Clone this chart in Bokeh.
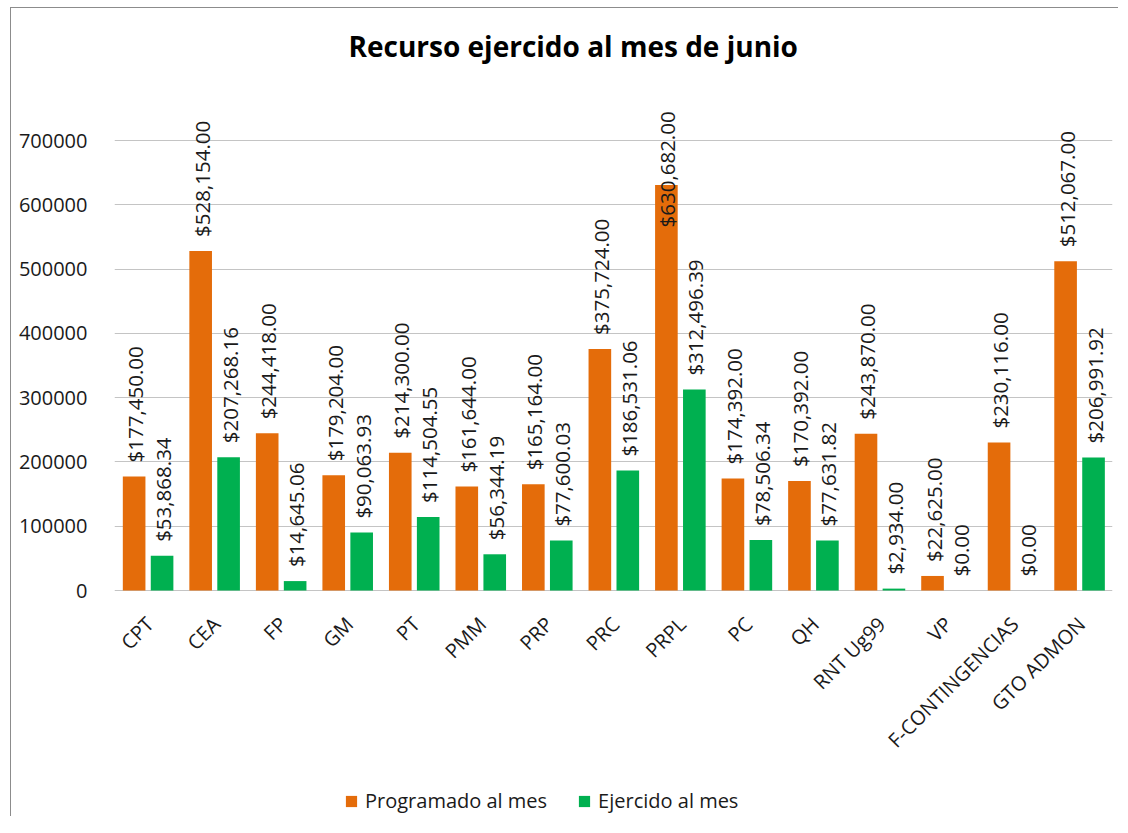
from math import pi
from bokeh.plotting import figure
from bokeh.models import (ColumnDataSource, FactorRange, Range1d, FixedTicker,
                          BasicTickFormatter, Legend, LegendItem)
from bokeh.transform import dodge
from bokeh.core.properties import value
from bokeh.embed import file_html
from bokeh.resources import INLINE

categories = ["CPT", "CEA", "FP", "GM", "PT", "PMM", "PRP", "PRC", "PRPL", "PC",
              "QH", "RNT Ug99", "VP", "F-CONTINGENCIAS", "GTO ADMON"]
programado = [177450.00, 528154.00, 244418.00, 179204.00, 214300.00, 161644.00,
              165164.00, 375724.00, 630682.00, 174392.00, 170392.00, 243870.00,
              22625.00, 230116.00, 512067.00]
ejercido = [53868.34, 207268.16, 14645.06, 90063.93, 114504.55, 56344.19,
            77600.03, 186531.06, 312496.39, 78506.34, 77631.82, 2934.00,
            0.00, 0.00, 206991.92]
y_ticks = [0, 100000, 200000, 300000, 400000, 500000, 600000, 700000]

FONT = "Open Sans"
ORANGE = "#E46C0A"
GREEN = "#00B050"
TXT = "#1a1a1a"
FRAME_GRAY = "#8c8c8c"

# frame geometry (pixels): part above the zero line and part below it
ABOVE = 503
BELOW = 226
PX_PER_700K = 450
Y_END = 700000 * ABOVE / PX_PER_700K
Y_START = -700000 * BELOW / PX_PER_700K
PPU = PX_PER_700K / 700000
LABEL_LEN = 126  # approx pixel length of a value label


def money(v):
    return "${:,.2f}".format(v)


def label_offset(v, gap):
    # keep the label inside the plot area, like the spreadsheet does
    top_px = (Y_END - v) * PPU
    if top_px - gap - LABEL_LEN < 14:
        return (14 + LABEL_LEN) - top_px
    return -gap


src = ColumnDataSource(dict(
    cat=categories,
    prog=programado,
    ejer=ejercido,
    prog_lbl=[money(v) for v in programado],
    ejer_lbl=[money(v) for v in ejercido],
    prog_off=[label_offset(v, 14) for v in programado],
    ejer_off=[label_offset(v, 14) for v in ejercido],
))

p = figure(x_range=FactorRange(*categories), y_range=Range1d(Y_START, Y_END),
           frame_width=998, frame_height=ABOVE + BELOW,
           output_backend="svg", toolbar_location=None,
           min_border_left=114, min_border_right=6, min_border_top=87,
           min_border_bottom=0)
p.border_fill_alpha = 0
p.background_fill_color = "white"
line = "linear-gradient({c},{c})".format(c=FRAME_GRAY)
p.styles = {
    "background": (line + " 10px 7px / 1px 100% no-repeat, "
                   + line + " 10px 7px / 100% 1px no-repeat, white"),
}

r1 = p.vbar(x=dodge("cat", -0.205, range=p.x_range), top="prog", width=0.34,
            source=src, fill_color=ORANGE, line_color=None)
r2 = p.vbar(x=dodge("cat", 0.215, range=p.x_range), top="ejer", width=0.34,
            source=src, fill_color=GREEN, line_color=None)

p.text(x=dodge("cat", -0.205, range=p.x_range), y="prog", text="prog_lbl",
       source=src, angle=pi / 2, text_align="left", text_baseline="middle",
       x_offset=1, y_offset="prog_off", text_font=value(FONT),
       text_font_size="20.5px", text_color=TXT)
p.text(x=dodge("cat", 0.215, range=p.x_range), y="ejer", text="ejer_lbl",
       source=src, angle=pi / 2, text_align="left", text_baseline="middle",
       x_offset=1, y_offset="ejer_off", text_font=value(FONT),
       text_font_size="20.5px", text_color=TXT)

# category labels (slanted, below the zero line)
p.text(x="cat", y=0, text="cat", source=src, angle=pi / 4,
       text_align="right", text_baseline="middle", x_offset=2, y_offset=30,
       text_font=value(FONT), text_font_size="20px", text_color=TXT)

# Title
p.title.text = "Recurso ejercido al mes de junio"
p.title.text_font = FONT
p.title.text_font_size = "28px"
p.title.text_font_style = "bold"
p.title.text_color = "#000000"
p.title.align = "left"
p.title.offset = 234
p.title.standoff = 46

# Axes
p.xaxis.visible = False
p.yaxis.ticker = FixedTicker(ticks=y_ticks)
p.yaxis.formatter = BasicTickFormatter(use_scientific=False)
p.yaxis.axis_line_color = None
p.yaxis.major_tick_line_color = None
p.yaxis.minor_tick_line_color = None
p.yaxis.major_label_standoff = 21
p.yaxis.major_label_text_font = FONT
p.yaxis.major_label_text_font_size = "20px"
p.yaxis.major_label_text_color = TXT

p.xgrid.grid_line_color = None
p.ygrid.ticker = FixedTicker(ticks=y_ticks)
p.ygrid.grid_line_color = "#c4c4c4"
p.ygrid.grid_line_width = 1
p.outline_line_color = None

legend = Legend(items=[LegendItem(label="Programado al mes", renderers=[r1]),
                       LegendItem(label="Ejercido al mes", renderers=[r2])],
                orientation="horizontal", location=(230, 2))
legend.label_text_font = FONT
legend.label_text_font_size = "20px"
legend.label_text_color = TXT
legend.glyph_width = 14
legend.glyph_height = 14
legend.label_standoff = 7
legend.spacing = 30
legend.padding = 4
legend.margin = 0
legend.border_line_color = None
legend.background_fill_alpha = 0
p.add_layout(legend, "center")

open("out.html", "w").write(file_html(p, INLINE))
